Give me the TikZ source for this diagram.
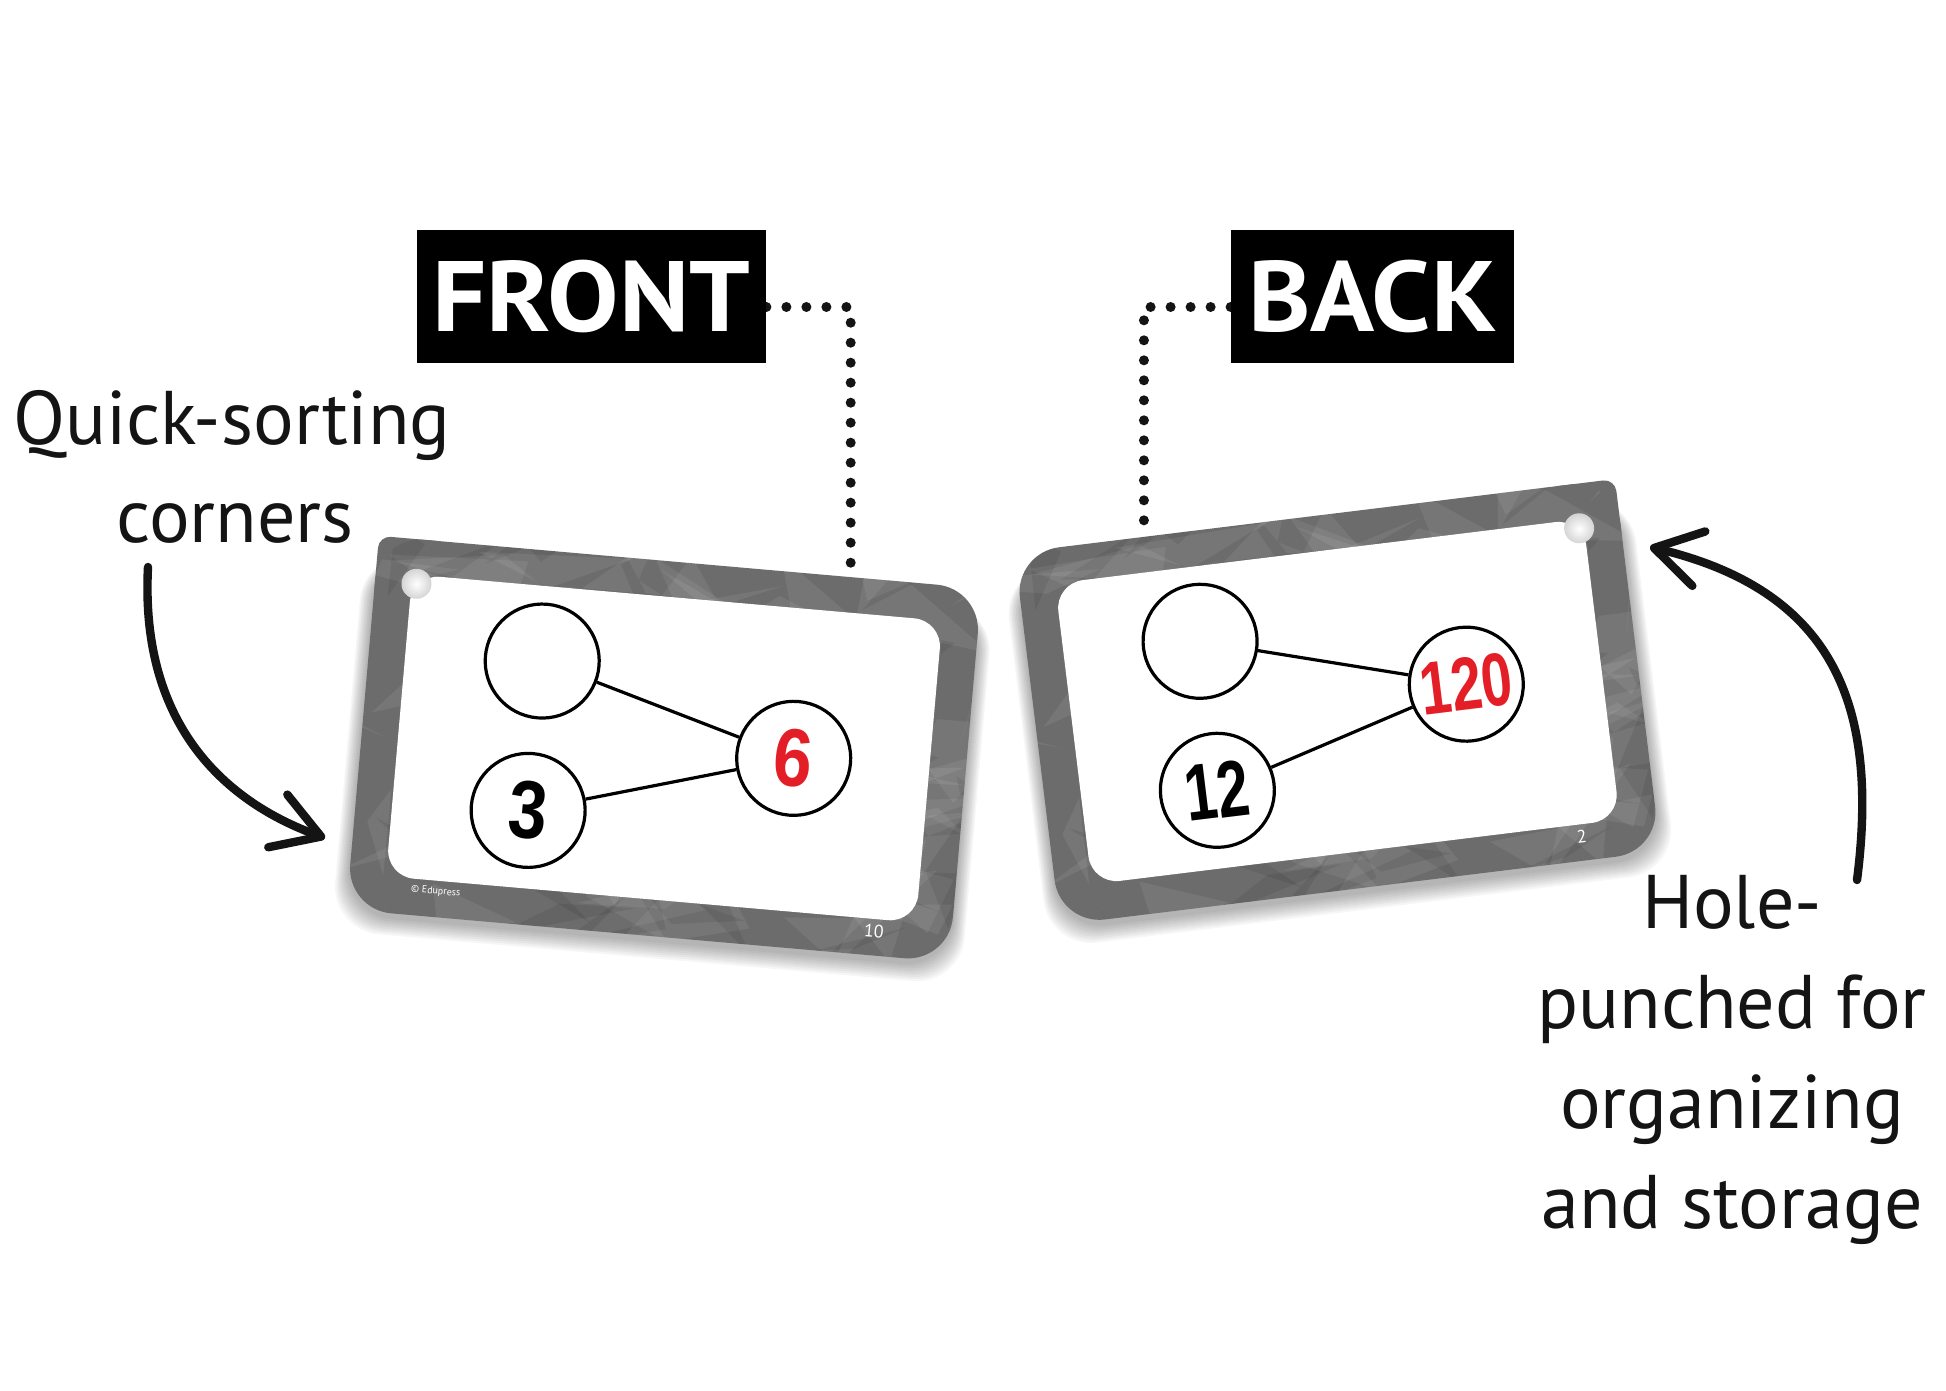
\documentclass[tikz,border=0pt]{standalone}
\usepackage{fontspec}
\usepackage{graphicx}
\setmainfont{PT Sans}
\newfontfamily\numfont{Liberation Sans}
\usetikzlibrary{arrows.meta,calc}
\definecolor{cardgray}{RGB}{108,108,108}
\definecolor{numred}{RGB}{228,30,38}
\pgfdeclarelayer{bg}
\pgfsetlayers{bg,main}
\newcommand\numtxt[4]{\scalebox{#2}[1]{\color{#1}\numfont\bfseries\fontsize{#3}{#3}\selectfont #4}}
\tikzset{
  pics/cardbody/.style={code={
    % soft shadow
    \foreach \k in {1,...,9}{
      \fill[black, opacity=0.035, rounded corners=24pt]
        (-302.5-\k*1.5, -170) rectangle (302.5+\k*1.5, 187.5+4+\k*2);
    }
    \fill[cardgray, rounded corners=22.5pt] (-302.5,-187.5) rectangle (302.5,187.5);
    \fill[cardgray, rounded corners=6pt] (#1*302.5,-187.5) rectangle (#1*232.5,-117.5);
    \begin{scope}
      \clip[rounded corners=22.5pt] (-302.5,-187.5) rectangle (302.5,187.5);
      \pgfmathsetseed{11}
      \foreach \i in {1,...,70}{
        \pgfmathsetmacro{\ax}{rand*320}
        \pgfmathsetmacro{\ay}{rand*200}
        \pgfmathsetmacro{\bx}{\ax+rand*140}
        \pgfmathsetmacro{\by}{\ay+rand*50}
        \pgfmathsetmacro{\cx}{\ax+rand*90}
        \pgfmathsetmacro{\cy}{\ay+rand*90}
        \fill[white, opacity=0.07] (\ax,\ay) -- (\bx,\by) -- (\cx,\cy) -- cycle;
      }
      \foreach \i in {1,...,40}{
        \pgfmathsetmacro{\ax}{rand*320}
        \pgfmathsetmacro{\ay}{rand*200}
        \pgfmathsetmacro{\bx}{\ax+rand*120}
        \pgfmathsetmacro{\by}{\ay+rand*60}
        \pgfmathsetmacro{\cx}{\ax+rand*70}
        \pgfmathsetmacro{\cy}{\ay+rand*70}
        \fill[black, opacity=0.07] (\ax,\ay) -- (\bx,\by) -- (\cx,\cy) -- cycle;
      }
    \end{scope}
    \fill[white, rounded corners=14pt] (-266,-152) rectangle (266,151);
    \shade[inner color=white, outer color=gray!35] (#1*261,-143) circle (15);
  }}
}
\begin{document}
\begin{tikzpicture}[x=0.5pt,y=-0.5pt,
  lbl/.style={font=\fontsize{38}{40}\selectfont, anchor=base, inner sep=0pt, text=black!92},
  tag/.style={fill=black, text=white, font=\bfseries\fontsize{50}{52}\selectfont,
    minimum height=66.5pt, inner sep=0pt},
  dotline/.style={line width=5pt, line cap=round, dash pattern=on 0pt off 10pt, black!92},
  numc/.style={circle, draw, line width=1.6pt, minimum size=57pt, inner sep=0pt, fill=white},
  link/.style={line width=1.6pt},
  smalltxt/.style={text=white, inner sep=0pt},
  arr/.style={line width=4.2pt, line cap=round, black!92,
    -{Straight Barb[length=23pt,width=28pt,round]}},
]
\begin{pgfonlayer}{bg}
  \fill[white] (0,0) rectangle (1946,1390);
\end{pgfonlayer}
\useasboundingbox (0,0) rectangle (1946,1390);

% labels
\node[tag, minimum width=174.5pt] (front) at (591.5,296.5) {\scalebox{1.07}[1]{FRONT}};
\node[tag, minimum width=141.5pt] (back) at (1372.5,296.5) {\scalebox{1.06}[1]{BACK}};

\node[lbl] (q1) at (232,444) {Quick-sorting};
\node[lbl] (q2) at (235,542) {corners};
\node[lbl] (h1) at (1732,928) {Hole-};
\node[lbl] (h2) at (1732,1028) {punched for};
\node[lbl] (h3) at (1732,1128) {organizing};
\node[lbl] (h4) at (1732,1228) {and storage};

% left card (front)
\begin{scope}[shift={(664,749)}, rotate=-5, transform shape]
  \pic {cardbody=-1};
  \node[numc] (la) at (-129,-77) {};
  \node[numc] (lb) at (130,-2) {\numtxt{numred}{0.85}{41}{6}};
  \node[numc] (lc) at (-130,73) {\numtxt{black}{0.85}{41}{3}};
  \draw[link] (la) -- (lb);
  \draw[link] (lc) -- (lb);
  \node[smalltxt, anchor=west, font=\fontsize{5}{6}\selectfont] (lcopy) at (-240,162) {\textcopyright\ Edupress};
  \node[smalltxt, font=\fontsize{9}{10}\selectfont] (lnum) at (225,163) {10};
  \coordinate (ftop) at (171,-187.5);
\end{scope}

% right card (back)
\begin{scope}[shift={(1337.5,702)}, rotate=7, transform shape]
  \pic {cardbody=1};
  \node[numc] (ra) at (-129,-77) {};
  \node[numc] (rb) at (130,-2) {\numtxt{numred}{0.74}{37.5}{120}};
  \node[numc] (rc) at (-130,73) {\numtxt{black}{0.72}{40}{12}};
  \draw[link] (ra) -- (rb);
  \draw[link] (rc) -- (rb);
  \node[smalltxt, font=\fontsize{9}{10}\selectfont] (rnum) at (226,163) {2};
  \coordinate (btop) at (-172,-187.5);
\end{scope}

% dotted leaders (behind the cards)
\begin{pgfonlayer}{bg}
  \draw[dotline] ($(front.east)+(0,10.5)$) -| (ftop);
  \draw[dotline] ($(back.west)+(0,10.5)$) -| (btop);
\end{pgfonlayer}

% arrows
\coordinate (a1s) at (148,567);
\coordinate (a1e) at (325,838);
\draw[arr] (a1s) .. controls (140,720) and (220,800) .. (a1e);
\coordinate (a2s) at (1857,880);
\coordinate (a2e) at (1650,547);
\draw[arr] (a2s) .. controls (1880,700) and (1830,590) .. (a2e);
\end{tikzpicture}
\end{document}
